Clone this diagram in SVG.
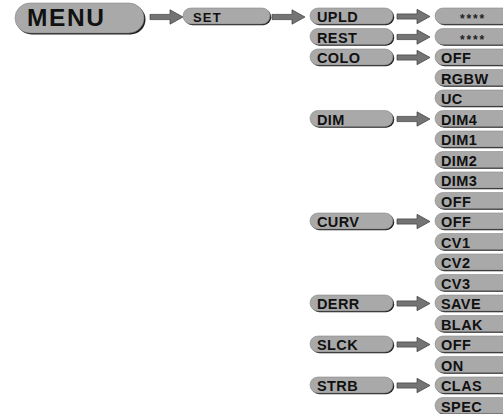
<svg xmlns="http://www.w3.org/2000/svg" width="503" height="414" viewBox="0 0 503 414">
<style>
.bg{fill:#ffffff}
.sh{fill:#1e1e1e}
.bx{fill:#a9a9a9;stroke:#8a8a8a;stroke-width:0.6}
.t{font-family:"Liberation Sans",Arial,sans-serif;font-weight:bold;font-size:14.5px;fill:#111;letter-spacing:0.4px}
.st{font-family:"Liberation Sans",Arial,sans-serif;font-weight:bold;font-size:12px;fill:#222;letter-spacing:1.8px}
.ar{fill:#747474;stroke:#3c3c3c;stroke-width:0.7;stroke-linejoin:miter}
</style>
<defs>
<path id="arw" d="M0,-2.6 L20,-2.6 L20,-7.2 L33,0 L20,7.2 L20,2.6 L0,2.6 Z"/>
</defs>
<rect class="bg" x="0" y="0" width="503" height="414"/>

<g id="connectors">
<use href="#arw" class="ar" transform="translate(150,17)"/>
<use href="#arw" class="ar" transform="translate(272,17)"/>
<use href="#arw" class="ar" transform="translate(397,16.5)"/>
<use href="#arw" class="ar" transform="translate(397,37)"/>
<use href="#arw" class="ar" transform="translate(397,57.5)"/>
<use href="#arw" class="ar" transform="translate(397,119)"/>
<use href="#arw" class="ar" transform="translate(397,221.5)"/>
<use href="#arw" class="ar" transform="translate(397,303.5)"/>
<use href="#arw" class="ar" transform="translate(397,344.5)"/>
<use href="#arw" class="ar" transform="translate(397,385.5)"/>
</g>

<g id="menu">
<rect class="sh" x="16.5" y="4.5" width="129" height="30" rx="15"/>
<rect class="bx" x="15" y="3" width="129" height="30" rx="15"/>
<text x="27" y="26" style="font-family:'Liberation Sans',Arial,sans-serif;font-weight:bold;font-size:24.5px;fill:#111;letter-spacing:1.6px">MENU</text>
</g>

<g id="set">
<rect class="sh" x="184.2" y="9.2" width="87" height="16" rx="8"/>
<rect class="bx" x="183" y="8" width="87" height="16" rx="8"/>
<text class="t" x="193" y="21.5" style="font-size:13px;letter-spacing:1.2px">SET</text>
</g>

<g id="upld"><rect class="sh" x="311.2" y="9.2" width="83" height="16" rx="8"/><rect class="bx" x="310" y="8" width="83" height="16" rx="8"/><text class="t" x="317" y="22">UPLD</text></g>
<g id="rest"><rect class="sh" x="311.2" y="29.7" width="83" height="16" rx="8"/><rect class="bx" x="310" y="28.5" width="83" height="16" rx="8"/><text class="t" x="317" y="42.5">REST</text></g>
<g id="colo"><rect class="sh" x="311.2" y="50.2" width="83" height="16" rx="8"/><rect class="bx" x="310" y="49" width="83" height="16" rx="8"/><text class="t" x="317" y="63">COLO</text></g>
<g id="dim"><rect class="sh" x="311.2" y="111.7" width="83" height="16" rx="8"/><rect class="bx" x="310" y="110.5" width="83" height="16" rx="8"/><text class="t" x="317" y="124.5">DIM</text></g>
<g id="curv"><rect class="sh" x="311.2" y="214.2" width="83" height="16" rx="8"/><rect class="bx" x="310" y="213" width="83" height="16" rx="8"/><text class="t" x="317" y="227">CURV</text></g>
<g id="derr"><rect class="sh" x="311.2" y="296.2" width="83" height="16" rx="8"/><rect class="bx" x="310" y="295" width="83" height="16" rx="8"/><text class="t" x="317" y="309">DERR</text></g>
<g id="slck"><rect class="sh" x="311.2" y="337.2" width="83" height="16" rx="8"/><rect class="bx" x="310" y="336" width="83" height="16" rx="8"/><text class="t" x="317" y="350">SLCK</text></g>
<g id="strb"><rect class="sh" x="311.2" y="378.2" width="83" height="16" rx="8"/><rect class="bx" x="310" y="377" width="83" height="16" rx="8"/><text class="t" x="317" y="391">STRB</text></g>

<g id="upld-val"><rect class="sh" x="436.2" y="9.2" width="90" height="16" rx="8"/><rect class="bx" x="435" y="8" width="90" height="16" rx="8"/><text class="st" x="460" y="23">****</text></g>
<g id="rest-val"><rect class="sh" x="436.2" y="29.7" width="90" height="16" rx="8"/><rect class="bx" x="435" y="28.5" width="90" height="16" rx="8"/><text class="st" x="460" y="43.5">****</text></g>
<g id="colo-off"><rect class="sh" x="436.2" y="50.2" width="90" height="16" rx="8"/><rect class="bx" x="435" y="49" width="90" height="16" rx="8"/><text class="t" x="441" y="63">OFF</text></g>
<g id="colo-rgbw"><rect class="sh" x="436.2" y="70.7" width="90" height="16" rx="8"/><rect class="bx" x="435" y="69.5" width="90" height="16" rx="8"/><text class="t" x="441" y="83.5">RGBW</text></g>
<g id="colo-uc"><rect class="sh" x="436.2" y="91.2" width="90" height="16" rx="8"/><rect class="bx" x="435" y="90" width="90" height="16" rx="8"/><text class="t" x="441" y="104">UC</text></g>
<g id="dim-dim4"><rect class="sh" x="436.2" y="111.7" width="90" height="16" rx="8"/><rect class="bx" x="435" y="110.5" width="90" height="16" rx="8"/><text class="t" x="441" y="124.5">DIM4</text></g>
<g id="dim-dim1"><rect class="sh" x="436.2" y="132.2" width="90" height="16" rx="8"/><rect class="bx" x="435" y="131" width="90" height="16" rx="8"/><text class="t" x="441" y="145">DIM1</text></g>
<g id="dim-dim2"><rect class="sh" x="436.2" y="152.7" width="90" height="16" rx="8"/><rect class="bx" x="435" y="151.5" width="90" height="16" rx="8"/><text class="t" x="441" y="165.5">DIM2</text></g>
<g id="dim-dim3"><rect class="sh" x="436.2" y="173.2" width="90" height="16" rx="8"/><rect class="bx" x="435" y="172" width="90" height="16" rx="8"/><text class="t" x="441" y="186">DIM3</text></g>
<g id="dim-off"><rect class="sh" x="436.2" y="193.7" width="90" height="16" rx="8"/><rect class="bx" x="435" y="192.5" width="90" height="16" rx="8"/><text class="t" x="441" y="206.5">OFF</text></g>
<g id="curv-off"><rect class="sh" x="436.2" y="214.2" width="90" height="16" rx="8"/><rect class="bx" x="435" y="213" width="90" height="16" rx="8"/><text class="t" x="441" y="227">OFF</text></g>
<g id="curv-cv1"><rect class="sh" x="436.2" y="234.7" width="90" height="16" rx="8"/><rect class="bx" x="435" y="233.5" width="90" height="16" rx="8"/><text class="t" x="441" y="247.5">CV1</text></g>
<g id="curv-cv2"><rect class="sh" x="436.2" y="255.2" width="90" height="16" rx="8"/><rect class="bx" x="435" y="254" width="90" height="16" rx="8"/><text class="t" x="441" y="268">CV2</text></g>
<g id="curv-cv3"><rect class="sh" x="436.2" y="275.7" width="90" height="16" rx="8"/><rect class="bx" x="435" y="274.5" width="90" height="16" rx="8"/><text class="t" x="441" y="288.5">CV3</text></g>
<g id="derr-save"><rect class="sh" x="436.2" y="296.2" width="90" height="16" rx="8"/><rect class="bx" x="435" y="295" width="90" height="16" rx="8"/><text class="t" x="441" y="309">SAVE</text></g>
<g id="derr-blak"><rect class="sh" x="436.2" y="316.7" width="90" height="16" rx="8"/><rect class="bx" x="435" y="315.5" width="90" height="16" rx="8"/><text class="t" x="441" y="329.5">BLAK</text></g>
<g id="slck-off"><rect class="sh" x="436.2" y="337.2" width="90" height="16" rx="8"/><rect class="bx" x="435" y="336" width="90" height="16" rx="8"/><text class="t" x="441" y="350">OFF</text></g>
<g id="slck-on"><rect class="sh" x="436.2" y="357.7" width="90" height="16" rx="8"/><rect class="bx" x="435" y="356.5" width="90" height="16" rx="8"/><text class="t" x="441" y="370.5">ON</text></g>
<g id="strb-clas"><rect class="sh" x="436.2" y="378.2" width="90" height="16" rx="8"/><rect class="bx" x="435" y="377" width="90" height="16" rx="8"/><text class="t" x="441" y="391">CLAS</text></g>
<g id="strb-spec"><rect class="sh" x="436.2" y="398.7" width="90" height="16" rx="8"/><rect class="bx" x="435" y="397.5" width="90" height="16" rx="8"/><text class="t" x="441" y="411.5">SPEC</text></g>
</svg>
